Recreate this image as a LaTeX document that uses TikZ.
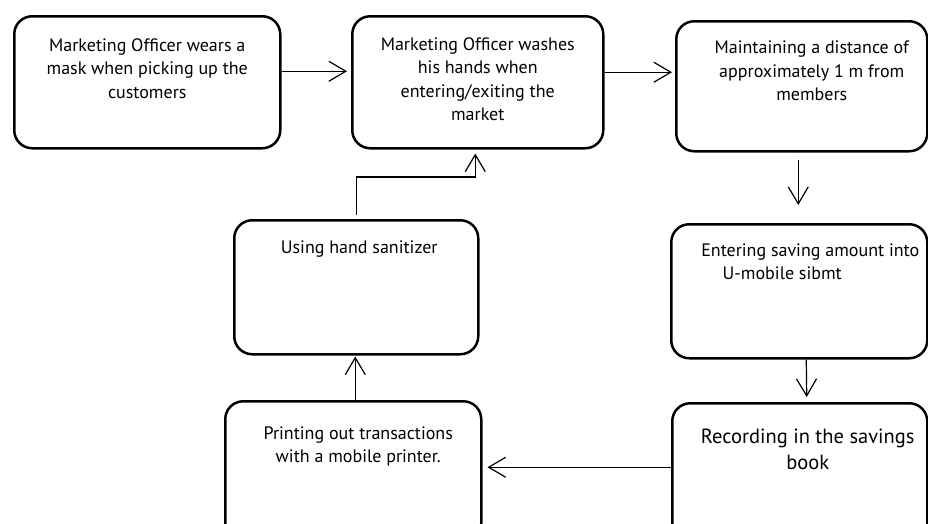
\documentclass[tikz,border=0pt]{standalone}
\usepackage{fontspec}
\setmainfont{PT Sans}
\usetikzlibrary{arrows.meta}

% text set at the top of a step box: width, height, twice the shift, gap, text
\newcommand{\steptext}[5]{\parbox[c][#2][t]{#1}{\vspace*{#4}\centering\leftskip=#3 plus 1fil #5\par}}

\tikzset{
  stepbox/.style={draw, line width=2.5pt, rounded corners=18pt, inner sep=0pt, anchor=north west,
    font=\fontsize{18}{23.5}\selectfont},
  flow/.style={line width=1.2pt, -{Straight Barb[length=17pt,width=20pt,line width=1.2pt]}}
}

\begin{document}
\begin{tikzpicture}[x=1pt,y=-1pt]
\useasboundingbox (0,0) rectangle (928,523);
\clip (0,0) rectangle (928,523);

\node[stepbox] (mask) at (13,15) {\steptext{266pt}{132pt}{0pt}{22pt}{Marketing Officer wears a\\ mask when picking up the\\ customers}};
\node[stepbox] (wash) at (351,15) {\steptext{251pt}{132pt}{0pt}{21pt}{Marketing Officer washes\\ his hands when\\ entering/exiting the\\ market}};
\node[stepbox] (dist) at (675,20) {\steptext{251pt}{130pt}{20pt}{20pt}{Maintaining a distance of\\ approximately 1 m from\\ members}};
\node[stepbox] (enter) at (670,223) {\steptext{256pt}{134pt}{22pt}{19pt}{Entering saving amount into\\ U-mobile sibmt\hspace*{56pt}}};
\node[stepbox, font=\fontsize{20.5}{26}\selectfont] (record) at (671,402) {\steptext{255pt}{140pt}{16pt}{26pt}{Recording in the savings\\ book}};
\node[stepbox] (print) at (224,400) {\steptext{256pt}{140pt}{10pt}{25pt}{Printing out transactions\\ with a mobile printer.}};
\node[stepbox] (sanit) at (233,219) {\steptext{244pt}{134pt}{6pt}{20pt}{Using hand sanitizer}};

\draw[flow, shorten >=4pt] ([yshift=11pt]mask.east) -- ([yshift=11pt]mask.east -| wash.west);
\draw[flow, shorten >=3pt] ([yshift=10pt]wash.east) -- ([yshift=10pt]wash.east -| dist.west);
\draw[flow] ([xshift=-3.5pt,yshift=-7pt]dist.south) -- ([xshift=-1pt,yshift=18pt]enter.north);
\draw[flow] ([xshift=7pt]enter.south) -- ([xshift=7pt,yshift=5pt]record.north);
\draw[flow, shorten >=5pt] ([yshift=6pt]record.west) -- ([yshift=6pt]record.west -| print.east);
\draw[flow] ([xshift=2pt]print.north) -- ([xshift=-1pt,yshift=-1pt]sanit.south);
\draw[flow] ([yshift=4pt]sanit.north) -- ++(0,-38) -| ([xshift=-2.5pt,yshift=-4pt]wash.south);
\end{tikzpicture}
\end{document}
